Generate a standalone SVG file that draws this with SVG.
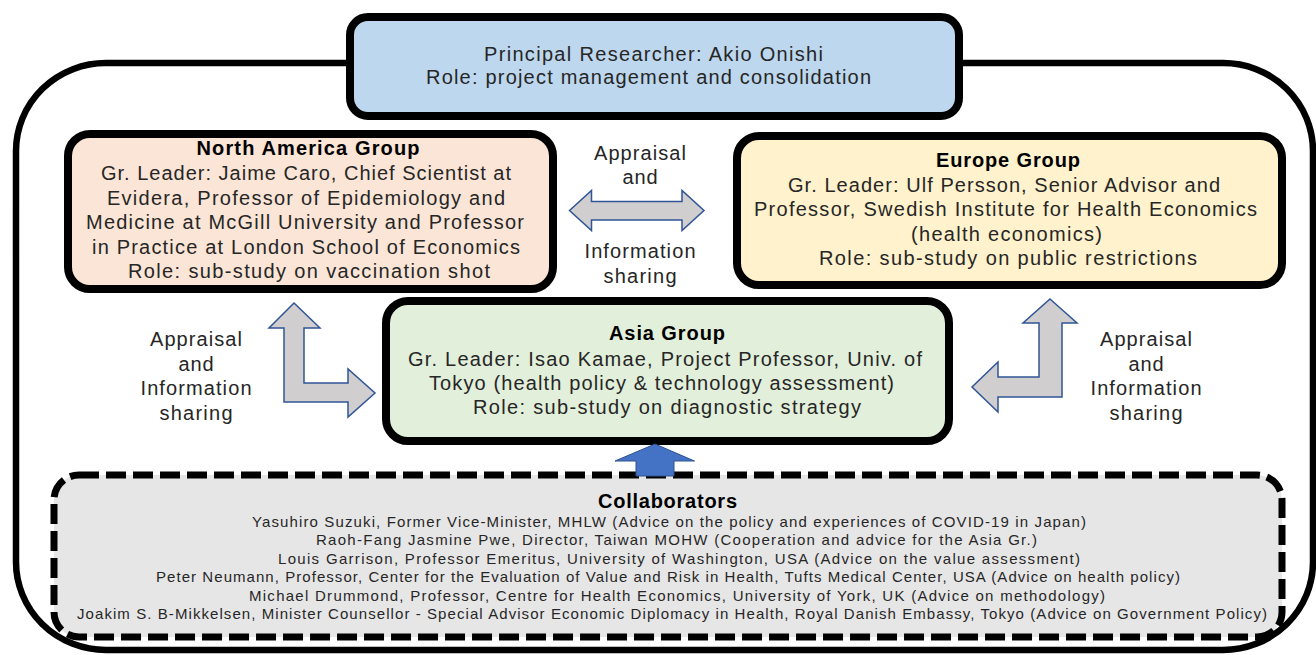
<svg xmlns="http://www.w3.org/2000/svg" width="1316" height="655" viewBox="0 0 1316 655">
<style>
.t{font-family:"Liberation Sans",Arial,sans-serif;font-size:20px;fill:#262626}
.b{font-weight:bold;fill:#000}
.c{font-size:15px}
.box{stroke:#000;stroke-width:8}
.arr{fill:#D0CECE;stroke:#2F5597;stroke-width:1.5}
</style>
<rect width="1316" height="655" fill="#fff"/>
<g id="frame">
<rect x="16" y="63" width="1297" height="587" rx="90" ry="88" fill="none" stroke="#000" stroke-width="6.5"/>
</g>
<g id="principal">
<rect class="box" x="350" y="17" width="609" height="99" rx="18" fill="#BDD7EE" stroke-width="7"/>
<text class="t" x="484" y="61" textLength="339">Principal Researcher: Akio Onishi</text>
<text class="t" x="426" y="84" textLength="445">Role: project management and consolidation</text>
</g>
<g id="north-america">
<rect class="box" x="68" y="134" width="485" height="155" rx="22" fill="#FBE5D6"/>
<text class="t b" x="196.5" y="155" textLength="223">North America Group</text>
<text class="t" x="101" y="180" textLength="410">Gr. Leader: Jaime Caro, Chief Scientist at</text>
<text class="t" x="107" y="204.5" textLength="398">Evidera, Professor of Epidemiology and</text>
<text class="t" x="86" y="229" textLength="438">Medicine at McGill University and Professor</text>
<text class="t" x="92" y="253.5" textLength="428">in Practice at London School of Economics</text>
<text class="t" x="128" y="278" textLength="362">Role: sub-study on vaccination shot</text>
</g>
<g id="europe">
<rect class="box" x="737" y="136" width="545" height="149" rx="22" fill="#FFF2CC"/>
<text class="t b" x="936" y="167" textLength="144">Europe Group</text>
<text class="t" x="788" y="191.5" textLength="432">Gr. Leader: Ulf Persson, Senior Advisor and</text>
<text class="t" x="754" y="216" textLength="503">Professor, Swedish Institute for Health Economics</text>
<text class="t" x="911" y="240.5" textLength="191">(health economics)</text>
<text class="t" x="819" y="265" textLength="378">Role: sub-study on public restrictions</text>
</g>
<g id="asia">
<rect class="box" x="386" y="301" width="563" height="140" rx="22" fill="#E2EFDA"/>
<text class="t b" x="609" y="340" textLength="116">Asia Group</text>
<text class="t" x="408" y="365.5" textLength="514">Gr. Leader: Isao Kamae, Project Professor, Univ. of</text>
<text class="t" x="429" y="390" textLength="465">Tokyo (health policy &amp; technology assessment)</text>
<text class="t" x="473" y="414" textLength="388">Role: sub-study on diagnostic strategy</text>
</g>
<g id="collaborators">
<rect x="54" y="475" width="1228" height="162" rx="25" fill="#E7E6E6" stroke="#000" stroke-width="7" stroke-dasharray="20 7"/>
<text class="t b" x="598" y="508" font-size="19" textLength="139">Collaborators</text>
<text class="t c" x="252" y="526.5" textLength="834">Yasuhiro Suzuki, Former Vice-Minister, MHLW (Advice on the policy and experiences of COVID-19 in Japan)</text>
<text class="t c" x="316" y="545" textLength="721">Raoh-Fang Jasmine Pwe, Director, Taiwan MOHW (Cooperation and advice for the Asia Gr.)</text>
<text class="t c" x="278" y="563.5" textLength="802">Louis Garrison, Professor Emeritus, University of Washington, USA (Advice on the value assessment)</text>
<text class="t c" x="156" y="582" textLength="1024">Peter Neumann, Professor, Center for the Evaluation of Value and Risk in Health, Tufts Medical Center, USA (Advice on health policy)</text>
<text class="t c" x="249" y="600.5" textLength="856">Michael Drummond, Professor, Centre for Health Economics, University of York, UK (Advice on methodology)</text>
<text class="t c" x="77" y="619" textLength="1190">Joakim S. B-Mikkelsen, Minister Counsellor - Special Advisor Economic Diplomacy in Health, Royal Danish Embassy, Tokyo (Advice on Government Policy)</text>
</g>
<g id="connectors">
<polygon class="arr" points="569.5,210.5 591.5,190.5 591.5,201.5 682,201.5 682,190.5 704,210.5 682,230.5 682,220 591.5,220 591.5,230.5"/>
<polygon class="arr" points="294,303 320,328 304,328 304,383 348,383 348,369 375,393 348,417 348,402 284,402 284,328 269,328"/>
<polygon class="arr" points="1050,299 1077,323 1062,323 1062,397 998,397 998,412 972,387 998,362 998,377 1039,377 1039,323 1023,323"/>
<polygon points="655,444 694.5,461 674,461 674,476 636,476 636,461 615,461" fill="#4472C4" stroke="#2F528F" stroke-width="1"/>
</g>
<g id="labels">
<text class="t" x="594" y="160" textLength="92">Appraisal</text>
<text class="t" x="622.5" y="184" textLength="35">and</text>
<text class="t" x="584.5" y="258" textLength="111">Information</text>
<text class="t" x="603.5" y="282.5" textLength="73">sharing</text>
<text class="t" x="150" y="346" textLength="92">Appraisal</text>
<text class="t" x="178.5" y="371" textLength="35">and</text>
<text class="t" x="140.5" y="395" textLength="111">Information</text>
<text class="t" x="159.5" y="419.5" textLength="73">sharing</text>
<text class="t" x="1100" y="346" textLength="92">Appraisal</text>
<text class="t" x="1128.5" y="371" textLength="35">and</text>
<text class="t" x="1090.5" y="395" textLength="111">Information</text>
<text class="t" x="1109.5" y="419.5" textLength="73">sharing</text>
</g>
</svg>
